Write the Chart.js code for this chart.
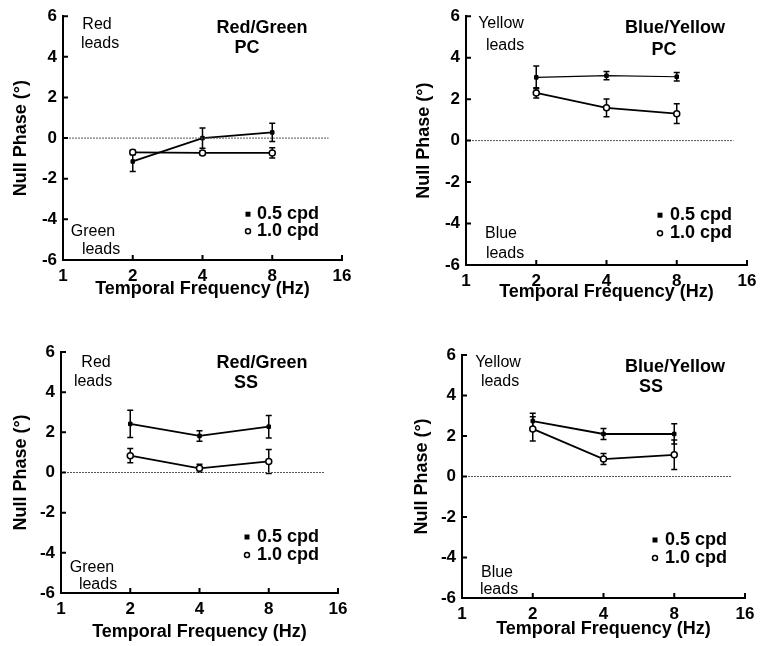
<!DOCTYPE html>
<html>
<head>
<meta charset="utf-8">
<script src="https://cdn.jsdelivr.net/npm/chart.js@4/dist/chart.umd.min.js"></script>
<style>
  html, body { margin: 0; padding: 0; background: #fff; }
  .panel { position: absolute; width: 382px; height: 323px; }
  canvas { display: block; }
</style>
</head>
<body>
<div class="panel" style="left:0;top:0"><canvas id="rgPc" width="382" height="323"></canvas></div>
<div class="panel" style="left:383px;top:0"><canvas id="byPc" width="382" height="323"></canvas></div>
<div class="panel" style="left:0;top:323px"><canvas id="rgSs" width="382" height="323"></canvas></div>
<div class="panel" style="left:383px;top:323px"><canvas id="bySs" width="382" height="323"></canvas></div>
<script>
// temporal frequencies (Hz) and axis ticks
const freqs = [2, 4, 8];
const xTicks = [1, 2, 4, 8, 16];
const yTicks = [-6, -4, -2, 0, 2, 4, 6];
const zeroLineX = [1, 14];
const seriesNames = ["0.5 cpd", "1.0 cpd"];

// null phase (deg), mean and error, per condition
const rgPcHalf = [-1.15, 0.0, 0.28];
const rgPcHalfErr = [0.5, 0.5, 0.45];
const rgPcOne = [-0.7, -0.73, -0.73];
const rgPcOneErr = [0.12, 0.1, 0.25];

const byPcHalf = [3.05, 3.13, 3.08];
const byPcHalfErr = [0.55, 0.2, 0.2];
const byPcOne = [2.3, 1.58, 1.3];
const byPcOneErr = [0.25, 0.43, 0.48];

const rgSsHalf = [2.42, 1.82, 2.28];
const rgSsHalfErr = [0.68, 0.26, 0.56];
const rgSsOne = [0.84, 0.21, 0.55];
const rgSsOneErr = [0.36, 0.2, 0.6];

const bySsHalf = [2.74, 2.1, 2.1];
const bySsHalfErr = [0.38, 0.27, 0.5];
const bySsOne = [2.35, 0.86, 1.07];
const bySsOneErr = [0.6, 0.27, 0.73];

const FONT = "'Liberation Sans', Arial, Helvetica, sans-serif";

const makeDecor = ({ errors, labels, legend }) => ({
  id: "panelDecor",
  beforeDatasetsDraw(chart) {
    const { ctx, scales: { x, y } } = chart;
    ctx.save();
    ctx.strokeStyle = "#000";
    ctx.lineWidth = 1.5;
    errors.forEach(({ values, errs }) => {
      freqs.forEach((f, i) => {
        const px = x.getPixelForValue(f);
        const top = y.getPixelForValue(values[i] + errs[i]);
        const bot = y.getPixelForValue(values[i] - errs[i]);
        ctx.beginPath();
        ctx.moveTo(px, top);
        ctx.lineTo(px, bot);
        ctx.moveTo(px - 3, top);
        ctx.lineTo(px + 3, top);
        ctx.moveTo(px - 3, bot);
        ctx.lineTo(px + 3, bot);
        ctx.stroke();
      });
    });
    ctx.restore();
  },
  afterDraw(chart) {
    const { ctx, chartArea: a, scales: { x, y } } = chart;
    ctx.save();
    ctx.strokeStyle = "#000";
    ctx.lineWidth = 2;
    // inward tick marks
    ctx.beginPath();
    yTicks.forEach((v) => {
      const py = y.getPixelForValue(v);
      ctx.moveTo(a.left, py);
      ctx.lineTo(a.left + 5, py);
    });
    xTicks.slice(1).forEach((v) => {
      const px = x.getPixelForValue(v);
      ctx.moveTo(px, a.bottom);
      ctx.lineTo(px, a.bottom - 5);
    });
    ctx.stroke();

    ctx.fillStyle = "#000";
    ctx.textBaseline = "middle";
    labels.forEach((l) => {
      ctx.font = l.font;
      ctx.textAlign = "center";
      ctx.fillText(l.text, a.left + l.x, a.top + l.y);
    });

    // key: filled square and open circle
    const { mx, tx, y1, y2 } = legend;
    ctx.font = `bold 18px ${FONT}`;
    ctx.textAlign = "left";
    ctx.fillRect(a.left + mx - 2.5, a.top + y1 - 2.5, 5, 5);
    ctx.fillText(seriesNames[0], a.left + tx, a.top + y1);
    ctx.lineWidth = 1.5;
    ctx.beginPath();
    ctx.arc(a.left + mx, a.top + y2, 2.5, 0, Math.PI * 2);
    ctx.stroke();
    ctx.fillText(seriesNames[1], a.left + tx, a.top + y2);
    ctx.restore();
  },
});

const renderPanel = ({ id, half, halfErr, one, oneErr, halfWidth = 1.8, box, yTitlePad, xTitlePad, labels, legend }) => {
  const W = 382, H = 323;
  const pts = (vals) => freqs.map((f, i) => ({ x: f, y: vals[i] }));

  new Chart(document.getElementById(id), {
    type: "line",
    data: {
      datasets: [
        {
          data: zeroLineX.map((v) => ({ x: v, y: 0 })),
          borderColor: "#555",
          borderWidth: 1,
          borderDash: [2, 1],
          pointRadius: 0,
        },
        {
          label: seriesNames[0],
          data: pts(half),
          borderColor: "#000",
          borderWidth: halfWidth,
          pointStyle: "rect",
          pointRadius: 2.5,
          pointBackgroundColor: "#000",
          pointBorderColor: "#000",
          pointBorderWidth: 1,
        },
        {
          label: seriesNames[1],
          data: pts(one),
          borderColor: "#000",
          borderWidth: 1.8,
          pointStyle: "circle",
          pointRadius: 3,
          pointBackgroundColor: "#fff",
          pointBorderColor: "#000",
          pointBorderWidth: 1.5,
        },
      ],
    },
    options: {
      responsive: false,
      animation: false,
      events: [],
      layout: { padding: { left: 0, right: W - box.right, top: box.top, bottom: 0 } },
      plugins: { legend: { display: false }, tooltip: { enabled: false } },
      scales: {
        x: {
          type: "logarithmic",
          min: 1,
          max: 16,
          afterBuildTicks: (s) => { s.ticks = xTicks.map((v) => ({ value: v })); },
          afterFit: (s) => { s.height = H - box.bottom; },
          grid: { display: false, drawTicks: false },
          border: { display: true, color: "#000", width: 2 },
          ticks: {
            autoSkip: false,
            maxRotation: 0,
            padding: 6,
            color: "#000",
            font: { family: FONT, size: 17, weight: "bold" },
            callback: (v) => String(v),
          },
          title: {
            display: true,
            text: "Temporal Frequency (Hz)",
            color: "#000",
            font: { family: FONT, size: 18, weight: "bold" },
            padding: { top: 0, bottom: xTitlePad },
          },
        },
        y: {
          min: -6,
          max: 6,
          afterFit: (s) => { s.width = box.left; },
          grid: { display: false, drawTicks: false },
          border: { display: true, color: "#000", width: 2 },
          ticks: {
            stepSize: 2,
            padding: 6,
            color: "#000",
            font: { family: FONT, size: 17, weight: "bold" },
          },
          title: {
            display: true,
            text: "Null Phase (°)",
            color: "#000",
            font: { family: FONT, size: 18, weight: "bold" },
            padding: { top: yTitlePad, bottom: 0 },
          },
        },
      },
    },
    plugins: [makeDecor({
      errors: [
        { values: half, errs: halfErr },
        { values: one, errs: oneErr },
      ],
      labels,
      legend,
    })],
  });
};

const reg = `16px ${FONT}`;
const bold = `bold 18px ${FONT}`;

renderPanel({
  id: "rgPc",
  half: rgPcHalf, halfErr: rgPcHalfErr, one: rgPcOne, oneErr: rgPcOneErr,
  box: { left: 63, right: 342, top: 15, bottom: 260 },
  yTitlePad: 10, xTitlePad: 23,
  labels: [
    { text: "Red", x: 34, y: 8, font: reg },
    { text: "leads", x: 37, y: 27, font: reg },
    { text: "Green", x: 30, y: 215, font: reg },
    { text: "leads", x: 38, y: 233, font: reg },
    { text: "Red/Green", x: 199, y: 12, font: bold },
    { text: "PC", x: 184, y: 32, font: bold },
  ],
  legend: { mx: 185, tx: 194, y1: 198, y2: 215 },
});

renderPanel({
  id: "byPc",
  half: byPcHalf, halfErr: byPcHalfErr, one: byPcOne, oneErr: byPcOneErr,
  halfWidth: 1.2,
  box: { left: 83, right: 364, top: 16, bottom: 265 },
  yTitlePad: 30, xTitlePad: 20,
  labels: [
    { text: "Yellow", x: 35, y: 7, font: reg },
    { text: "leads", x: 39, y: 29, font: reg },
    { text: "Blue", x: 35, y: 217, font: reg },
    { text: "leads", x: 39, y: 237, font: reg },
    { text: "Blue/Yellow", x: 209, y: 12, font: bold },
    { text: "PC", x: 198, y: 34, font: bold },
  ],
  legend: { mx: 194, tx: 204, y1: 199, y2: 217 },
});

renderPanel({
  id: "rgSs",
  half: rgSsHalf, halfErr: rgSsHalfErr, one: rgSsOne, oneErr: rgSsOneErr,
  box: { left: 61, right: 338, top: 29, bottom: 270 },
  yTitlePad: 10, xTitlePad: 3,
  labels: [
    { text: "Red", x: 35, y: 11, font: reg },
    { text: "leads", x: 32, y: 30, font: reg },
    { text: "Green", x: 31, y: 216, font: reg },
    { text: "leads", x: 37, y: 233, font: reg },
    { text: "Red/Green", x: 201, y: 11, font: bold },
    { text: "SS", x: 185, y: 31, font: bold },
  ],
  legend: { mx: 186, tx: 196, y1: 185, y2: 203 },
});

renderPanel({
  id: "bySs",
  half: bySsHalf, halfErr: bySsHalfErr, one: bySsOne, oneErr: bySsOneErr,
  box: { left: 79, right: 362, top: 32, bottom: 275 },
  yTitlePad: 28, xTitlePad: 6,
  labels: [
    { text: "Yellow", x: 36, y: 8, font: reg },
    { text: "leads", x: 38, y: 27, font: reg },
    { text: "Blue", x: 35, y: 218, font: reg },
    { text: "leads", x: 37, y: 235, font: reg },
    { text: "Blue/Yellow", x: 213, y: 12, font: bold },
    { text: "SS", x: 189, y: 32, font: bold },
  ],
  legend: { mx: 193, tx: 203, y1: 185, y2: 203 },
});
</script>
</body>
</html>
